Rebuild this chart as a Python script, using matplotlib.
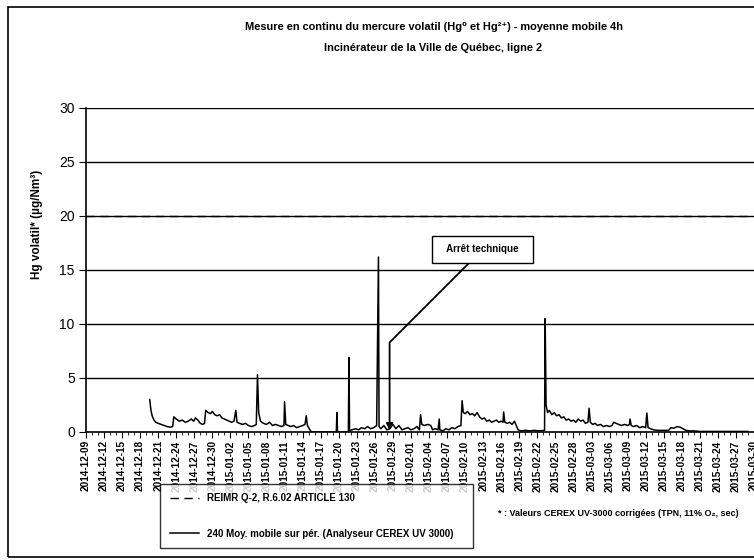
#! /usr/bin/env python

import numpy as np
import matplotlib
matplotlib.use("Agg")
import matplotlib.pyplot as plt
import matplotlib.dates as mdates
from matplotlib.patches import Rectangle

plt.rcParams['font.family'] = ['Liberation Sans', 'DejaVu Sans']

# jours depuis le 2014-12-09 et valeurs Hg (ug/Nm3)
jours = [10.6, 10.8, 11.0, 11.3, 11.6, 12.0, 12.5, 13.0, 13.5, 14.0, 14.4, 14.6,
         15.0, 15.5, 16.0, 16.5, 17.0, 17.5, 17.9, 18.2, 18.6, 19.0, 19.4, 19.7,
         19.9, 20.3, 20.7, 21.0, 21.4, 21.8, 22.2, 22.6, 23.0, 23.4, 23.8, 24.2,
         24.6, 24.9, 25.1, 25.5, 26.0, 26.5, 27.0, 27.5, 28.0, 28.3, 28.5, 28.7,
         29.0, 29.5, 30.0, 30.5, 31.0, 31.5, 32.0, 32.5, 32.9, 33.0, 33.2, 33.6,
         34.0, 34.5, 35.0, 35.5, 36.0, 36.4, 36.6, 36.8, 37.1, 37.4, 37.6, 41.6,
         41.7, 41.8, 43.6, 43.7, 43.8, 44.2, 44.8, 45.3, 45.8, 46.3, 46.8, 47.3,
         47.8, 48.3, 48.6, 48.7, 49.0, 49.5, 50.0, 50.5, 51.0, 51.5, 52.0, 52.5,
         53.0, 53.5, 54.0, 54.5, 55.0, 55.4, 55.6, 55.8, 56.2, 56.8, 57.3, 57.6,
         58.0, 58.5, 58.7, 58.8, 59.3, 59.8, 60.3, 60.8, 61.3, 61.8, 62.3, 62.5,
         62.7, 63.0, 63.4, 63.8, 64.2, 64.6, 65.0, 65.4, 65.8, 66.2, 66.6, 67.0,
         67.4, 67.8, 68.2, 68.6, 69.0, 69.3, 69.4, 69.6, 70.0, 70.4, 70.8, 71.2,
         71.5, 71.8, 72.3, 73.0, 73.8, 74.5, 75.3, 76.2, 76.3, 76.45, 76.7, 77.0,
         77.4, 77.8, 78.2, 78.6, 79.0, 79.4, 79.8, 80.2, 80.6, 81.0, 81.4, 81.8,
         82.2, 82.6, 83.0, 83.4, 83.6, 83.8, 84.2, 84.6, 85.0, 85.5, 86.0, 86.5,
         87.0, 87.4, 87.7, 88.1, 88.5, 89.0, 89.5, 90.0, 90.3, 90.4, 90.6, 91.0,
         91.5, 92.0, 92.5, 93.0, 93.2, 93.4, 93.8, 94.3, 95.0, 96.0, 96.8, 97.2,
         97.7, 98.2, 98.7, 99.2, 99.7, 100.3, 101.0, 102.0, 104.0, 106.0, 108.0, 110.0]
hg = [3.0, 2.0, 1.5, 1.1, 0.9, 0.8, 0.7, 0.6, 0.5, 0.45, 0.5, 1.4,
      1.2, 1.0, 1.1, 0.9, 1.0, 1.2, 1.0, 1.3, 1.1, 0.8, 0.7, 0.8,
      2.0, 1.8, 1.7, 1.9, 1.6, 1.5, 1.6, 1.3, 1.2, 1.1, 1.0, 0.9,
      1.0, 2.0, 0.9, 0.8, 0.7, 0.8, 0.6, 0.5, 0.6, 0.7, 5.3, 1.8,
      1.0, 0.8, 0.7, 0.9, 0.6, 0.7, 0.6, 0.5, 0.6, 2.8, 0.7, 0.6,
      0.5, 0.6, 0.4, 0.5, 0.6, 0.7, 1.5, 0.6, 0.3, 0.05, 0.0, 0.0,
      1.8, 0.0, 0.0, 6.9, 0.1, 0.2, 0.3, 0.2, 0.4, 0.3, 0.5, 0.3,
      0.4, 0.6, 16.2, 0.5, 0.3, 0.6, 0.2, 0.3, 0.7, 0.3, 0.6, 0.2,
      0.3, 0.4, 0.2, 0.3, 0.5, 0.2, 1.6, 0.7, 0.6, 0.7, 0.6, 0.2,
      0.3, 0.2, 1.2, 0.2, 0.1, 0.3, 0.2, 0.4, 0.3, 0.5, 0.6, 2.9,
      1.8, 1.7, 1.9, 1.6, 1.7, 1.5, 1.8, 1.4, 1.2, 1.3, 1.0, 1.1,
      0.9, 1.0, 1.1, 0.9, 1.0, 0.9, 1.85, 0.9, 0.8, 0.9, 0.7, 1.0,
      0.6, 0.2, 0.1, 0.15, 0.1, 0.15, 0.1, 0.15, 10.5, 2.5, 1.8, 2.0,
      1.6, 1.8, 1.5, 1.6, 1.3, 1.4, 1.1, 1.2, 1.0, 1.1, 0.9, 1.2,
      1.0, 1.1, 0.8, 0.9, 2.2, 0.9, 0.7, 0.8, 0.6, 0.7, 0.5, 0.6,
      0.5, 0.6, 0.9, 0.8, 0.7, 0.6, 0.7, 0.6, 0.7, 1.2, 0.6, 0.5,
      0.6, 0.4, 0.5, 0.4, 1.75, 0.4, 0.3, 0.2, 0.15, 0.15, 0.15, 0.4,
      0.35, 0.5, 0.45, 0.3, 0.15, 0.1, 0.1, 0.05, 0.05, 0.05, 0.05, 0.05]
limite_reimr = 20
y_ticks = [0, 5, 10, 15, 20, 25, 30]

debut = np.datetime64('2014-12-09T00:00')
dates = debut + (np.array(jours) * 24 * 60).astype('timedelta64[m]')
tick_dates = np.arange(np.datetime64('2014-12-09'), np.datetime64('2015-04-01'), 3).astype('datetime64[m]')
fin = debut + np.timedelta64(int(110.2 * 24 * 60), 'm')

fig = plt.figure(figsize=(7.54, 5.6), dpi=100)
ax = fig.add_axes([0.114, 0.2286, 0.886, 0.5786])

ax.set_axisbelow(True)
for yv in y_ticks[1:]:
    ax.axhline(yv, color='black', lw=1.0, zorder=0)

ax.plot([debut, fin], [limite_reimr, limite_reimr], color='black', lw=1.0, ls=(0, (6, 4)),
        label='REIMR Q-2, R.6.02 ARTICLE 130')
ax.plot(dates, hg, color='black', lw=1.1,
        label='240 Moy. mobile sur pér. (Analyseur CEREX UV 3000)')

ax.set_xlim(debut, fin)
ax.set_ylim(0, 30)
ax.set_yticks(y_ticks)
ax.set_xticks(tick_dates)
ax.xaxis.set_major_formatter(mdates.DateFormatter('%Y-%m-%d'))
ax.xaxis.set_minor_locator(mdates.DayLocator())
ax.tick_params(axis='x', which='major', length=4, labelsize=7.2, rotation=90, pad=2)
ax.tick_params(axis='x', which='minor', length=2)
ax.tick_params(axis='y', length=5, labelsize=10, pad=3)
for lab in ax.get_xticklabels():
    lab.set_fontweight('bold')

for s in ['top', 'right']:
    ax.spines[s].set_visible(False)
ax.spines['left'].set_linewidth(1.2)
ax.spines['bottom'].set_linewidth(1.2)

ax.set_ylabel('Hg volatil* (µg/Nm³)', fontsize=8.5, fontweight='bold')
ax.yaxis.set_label_coords(-0.064, 0.64)

fig.text(0.575, 0.951, 'Mesure en continu du mercure volatil (Hg⁰ et Hg²⁺) - moyenne mobile 4h',
         ha='center', va='center', fontsize=7.9, fontweight='bold')
fig.text(0.575, 0.915, 'Incinérateur de la Ville de Québec, ligne 2',
         ha='center', va='center', fontsize=7.9, fontweight='bold')

# annotation arret technique
ax.annotate('  Arrêt technique  ', xy=(debut + np.timedelta64(int(50.45 * 1440), 'm'), 0.15),
            xytext=(debut + np.timedelta64(int(65.9 * 1440), 'm'), 16.9), textcoords='data',
            ha='center', va='center', fontsize=7, fontweight='bold',
            bbox=dict(boxstyle='square,pad=0.9', fc='white', ec='black', lw=1),
            arrowprops=dict(arrowstyle='-|>', color='black', lw=1.3,
                            connectionstyle='angle,angleA=45,angleB=90,rad=0',
                            mutation_scale=10, shrinkA=0, shrinkB=0))

leg = fig.legend(loc='lower left', bbox_to_anchor=(0.2056, 0.012, 0.428, 0.131), mode='expand',
                 frameon=True, fancybox=False, edgecolor='black',
                 labelspacing=2.6, handlelength=3.0, borderpad=1.0, prop={'weight': 'bold', 'size': 7})
leg.get_frame().set_linewidth(1.0)

fig.text(0.66, 0.083, '* : Valeurs CEREX UV-3000 corrigées (TPN, 11% O₂, sec)', fontsize=6.5,
         fontweight='bold', va='center')

fig.patches.append(Rectangle((0.01, 0.006), 1.2, 0.982, transform=fig.transFigure,
                             fill=False, ec='black', lw=1.2))

fig.savefig('out.png', dpi=100)
